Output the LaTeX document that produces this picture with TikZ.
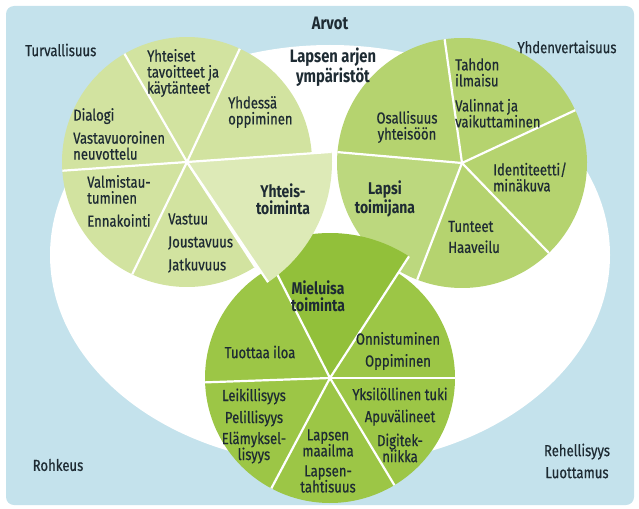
\documentclass[tikz,border=0pt]{standalone}
\usepackage{fontspec}
\setmainfont{Fira Sans}[FakeStretch=0.82, UprightFeatures={FakeBold=0.6}]
\definecolor{values background color}{HTML}{C4E2EC}
\definecolor{label color}{HTML}{1E2B33}
\definecolor{left circle color}{HTML}{D2E3A0}
\definecolor{yhteis color}{HTML}{DDEAB7}
\definecolor{right circle color}{HTML}{B5D36F}
\definecolor{lapsi color}{HTML}{BCD87E}
\definecolor{bottom circle color}{HTML}{9CC646}
\definecolor{mieluisa color}{HTML}{92C03A}
\tikzset{
    x={1pt},
    y={-1pt},
    values background/.style={
        fill=values background color,
        rounded corners={8pt},
    },
    everyday environment/.style={
        fill=white,
    },
    slice/.style={
        fill={#1},
    },
    separator/.style={
        draw=white,
        line width={2.2pt},
    },
    slice label/.style={
        font={\fontsize{16}{16}\selectfont},
        text=label color,
        inner sep=0pt,
        align=left,
    },
    slice title/.style={
        slice label,
        font={\fontsize{17}{17}\selectfont\bfseries},
        align=center,
    },
    value label/.style={
        slice label,
    },
    value title/.style={
        slice title,
        font={\fontsize{18}{17}\selectfont\bfseries},
    },
}

\begin{document}
\begin{tikzpicture}
\useasboundingbox (0,0) rectangle (639,508);
% background
\path[values background] (6,6) rectangle (634,505);
\path[everyday environment] (330,255) ellipse [x radius=280, y radius=210];
% circle centres
\coordinate (L) at (187,162);
\coordinate (R) at (462,163);
\coordinate (B) at (330,378);
% slices
\foreach \a/\b in {57/116,116/176,176/240,240/295,295/356}
    \path[slice=left circle color] (L) -- ++(\a:125) arc[start angle=\a, end angle=\b, radius=125] -- cycle;
\foreach \a/\b in {185/262,262/335,335/406,46/111}
    \path[slice=right circle color] (R) -- ++(\a:125) arc[start angle=\a, end angle=\b, radius=125] -- cycle;
\path[slice=lapsi color] (R) -- ++(111:125) arc[start angle=111, end angle=185, radius=125] -- cycle;
\foreach \a/\b in {303/360,0/59,59/118,118/178,178/243}
    \path[slice=bottom circle color] (B) -- ++(\a:125) arc[start angle=\a, end angle=\b, radius=125] -- cycle;
% separators
\foreach \a in {57,116,176,240,295}
    \draw[separator] (L) -- ++(\a:125);
\foreach \a in {46,111,185,262,335}
    \draw[separator] (R) -- ++(\a:125);
\foreach \a in {0,59,118,178}
    \draw[separator] (B) -- ++(\a:125);
% central slices
\path[slice=mieluisa color] (B) -- ++(243:145) arc[start angle=243, end angle=303, radius=145] -- cycle;
\draw[separator] (B) -- ++(243:145) (B) -- ++(303:145);
\path[slice=yhteis color] (L) -- ++(-4:145) arc[start angle=-4, end angle=56, radius=145] -- cycle;
\draw[separator] (L) -- ++(-4:145) (L) -- ++(56:145);
% values
\node[value title] (arvot) at (330,23) {Arvot};
\node[value title] (ymparistot) at (333,67) {Lapsen arjen\\ympäristöt};
\node[value label, anchor=west] (turvallisuus) at (25,50) {Turvallisuus};
\node[value label] (yhdenvertaisuus) at (567,47) {Yhdenvertaisuus};
\node[value label] (rohkeus) at (58,465) {Rohkeus};
\node[value label, align=center] (rehellisyys) at (577,461) {Rehellisyys\\[6pt]Luottamus};
% left circle
\node[slice label, anchor=west] (yhteiset) at (147,73) {Yhteiset\\tavoitteet ja\\käytänteet};
\node[slice label, anchor=west] (yhdessa) at (228,112) {Yhdessä\\oppiminen};
\node[slice label, anchor=west] (dialogi) at (73,134) {Dialogi\\[7pt]Vastavuoroinen\\neuvottelu};
\node[slice label, anchor=west] (valmistautuminen) at (87,201) {Valmistau-\\tuminen\\[7pt]Ennakointi};
\node[slice label, anchor=west] (vastuu) at (168,243) {Vastuu\\[7pt]Joustavuus\\[7pt]Jatkuvuus};
\node[slice title] (yhteistoiminta) at (283,199) {Yhteis-\\toiminta};
% right circle
\node[slice label, align=center] (osallisuus) at (407,127) {Osallisuus\\yhteisöön};
\node[slice label, anchor=west] (tahdon) at (455,93) {Tahdon\\ilmaisu\\[9pt]Valinnat ja\\vaikuttaminen};
\node[slice label, anchor=west] (identiteetti) at (493,177) {Identiteetti/\\minäkuva};
\node[slice title] (lapsi) at (385,199) {Lapsi\\toimijana};
\node[slice label, anchor=west] (tunteet) at (448,237) {Tunteet\\[5pt]Haaveilu};
% bottom circle
\node[slice title] (mieluisa) at (318,296) {Mieluisa\\toiminta};
\node[slice label] (tuottaa) at (260,352) {Tuottaa iloa};
\node[slice label, align=center] (onnistuminen) at (398,351) {Onnistuminen\\[6pt]Oppiminen};
\node[slice label, align=center] (leikillisyys) at (254,426) {Leikillisyys\\[6pt]Pelillisyys\\[5pt]Elämyksel-\\lisyys};
\node[slice label, align=center] (yksilollinen) at (400,425) {Yksilöllinen tuki\\[6pt]Apuvälineet\\[8pt]Digitek-\\niikka};
\node[slice label, align=center] (lapsenmaailma) at (328,461) {Lapsen\\maailma\\[4pt]Lapsen-\\tahtisuus};
\end{tikzpicture}
\end{document}
